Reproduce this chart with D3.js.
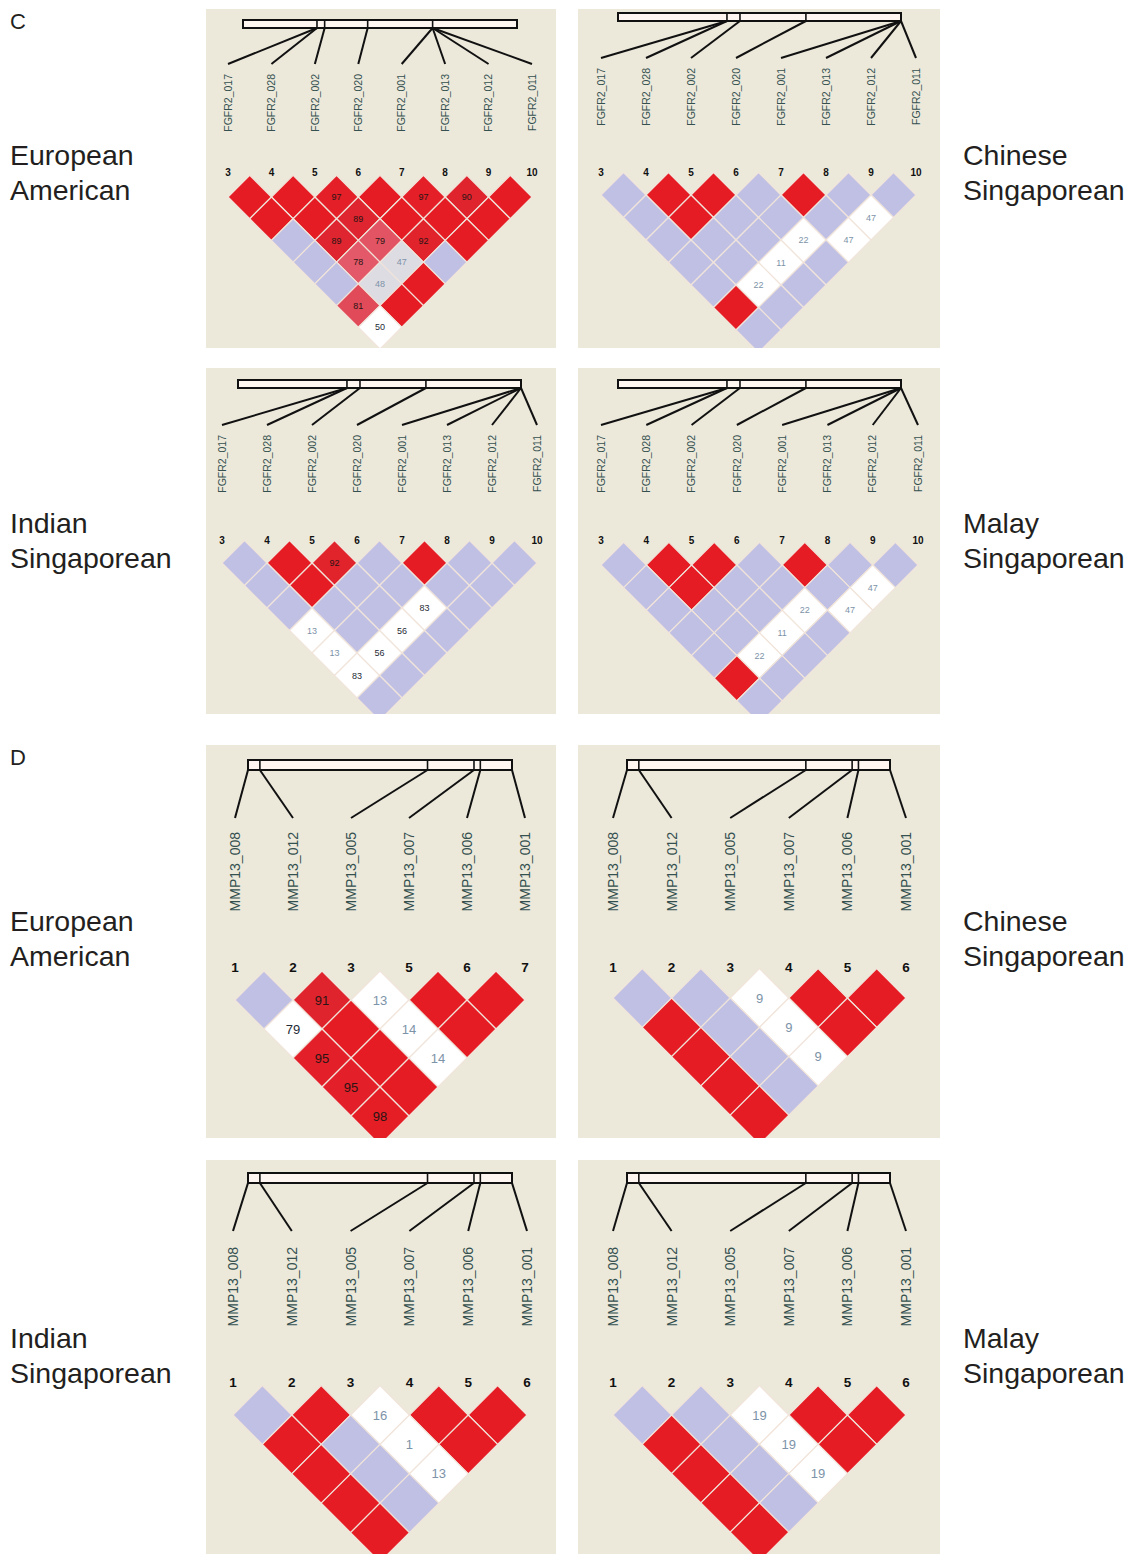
<!doctype html>
<html>
<head>
<script src="https://cdn.jsdelivr.net/npm/d3@7"></script>
<style>
  body { margin: 0; background: #fff; }
  text { font-family: "Liberation Sans", Arial, sans-serif; }
</style>
</head>
<body>
<div id="fig"></div>
<script>
// markers and their numbers
var fgfrMarkers = ["FGFR2_017","FGFR2_028","FGFR2_002","FGFR2_020","FGFR2_001","FGFR2_013","FGFR2_012","FGFR2_011"];
var fgfrNumbers = [3,4,5,6,7,8,9,10];
var mmpMarkers = ["MMP13_008","MMP13_012","MMP13_005","MMP13_007","MMP13_006","MMP13_001"];
var mmpNumbersEA = [1,2,3,5,6,7];
var mmpNumbers = [1,2,3,4,5,6];

// relative marker positions along the gene map bar
var fgfrPosEA = [0.27,0.27,0.298,0.455,0.692,0.692,0.692,0.692];
var fgfrPosSG = [0.385,0.385,0.431,0.664,1,1,1,1];
var mmpPos = [0,0.045,0.68,0.856,0.88,1];

// LD cells, row k = marker distance k; R red, B blue, W white, G grey, number = D'
var ldFgfrEA = [
  ["R","R","R97","R","R97","R90","R"],
  ["R","R","R89","R","R","R"],
  ["B","R89","R79","R92","R"],
  ["B","R78","G47","B"],
  ["B","G48","R"],
  ["R81","R"],
  ["W50"]
];
var ldFgfrCS = [
  ["B","R","R","B","R","B","B"],
  ["B","R","B","B","B","W47"],
  ["B","B","B","W22","W47"],
  ["B","B","W11","B"],
  ["B","W22","B"],
  ["R","B"],
  ["B"]
];
var ldFgfrIS = [
  ["B","R","R92","B","R","B","B"],
  ["B","R","B","B","B","B"],
  ["B","B","B","W83","B"],
  ["W13","B","W56","B"],
  ["W13","W56","B"],
  ["W83","B"],
  ["B"]
];
var ldFgfrMS = [
  ["B","R","R","B","R","B","B"],
  ["B","R","B","B","B","W47"],
  ["B","B","B","W22","W47"],
  ["B","B","W11","B"],
  ["B","W22","B"],
  ["R","B"],
  ["B"]
];
var ldMmpEA = [
  ["B","R91","W13","R","R"],
  ["W79","R","W14","R"],
  ["R95","R","W14"],
  ["R95","R"],
  ["R98"]
];
var ldMmpCS = [
  ["B","B","W9","R","R"],
  ["R","B","W9","R"],
  ["R","B","W9"],
  ["R","B"],
  ["R"]
];
var ldMmpIS = [
  ["B","R","W16","R","R"],
  ["R","B","W1","R"],
  ["R","B","W13"],
  ["R","B"],
  ["R"]
];
var ldMmpMS = [
  ["B","B","W19","R","R"],
  ["R","B","W19","R"],
  ["R","B","W19"],
  ["R","B"],
  ["R"]
];

var W = 1132, H = 1554;
var svg = d3.select("#fig").append("svg").attr("width", W).attr("height", H);

var RED = "#e61c24", BLUE = "#bfc0e4", GREY = "#dddce3", BG = "#ece9db";
var shade = d3.scaleLinear().domain([75, 88, 100]).range(["#e4687a", "#de2630", RED]).clamp(true);

function fillOf(c) {
  if (c.type == "B") return BLUE;
  if (c.type == "W") return "#ffffff";
  if (c.type == "G") return GREY;
  return c.val ? shade(c.val) : RED;
}

var panels = [
  {rect:[206,9,350,339], markers:fgfrMarkers, nums:fgfrNumbers, pos:fgfrPosEA, ld:ldFgfrEA, xr:[228,532], numY:172, row1:197, bar:[243,517], barY:20, barH:8, lineEnd:64, labTop:74, lab:10.5, nf:10, cf:9},
  {rect:[578,9,362,339], markers:fgfrMarkers, nums:fgfrNumbers, pos:fgfrPosSG, ld:ldFgfrCS, xr:[601,916], numY:172, row1:195, bar:[618,901], barY:13, barH:8, lineEnd:58, labTop:68, lab:10.5, nf:10, cf:9},
  {rect:[206,368,350,346], markers:fgfrMarkers, nums:fgfrNumbers, pos:fgfrPosSG, ld:ldFgfrIS, xr:[222,537], numY:540, row1:563, bar:[238,521], barY:380, barH:8, lineEnd:425, labTop:435, lab:10.5, nf:10, cf:9},
  {rect:[578,368,362,346], markers:fgfrMarkers, nums:fgfrNumbers, pos:fgfrPosSG, ld:ldFgfrMS, xr:[601,918], numY:540, row1:565, bar:[618,901], barY:380, barH:8, lineEnd:425, labTop:435, lab:10.5, nf:10, cf:9},
  {rect:[206,745,350,393], markers:mmpMarkers, nums:mmpNumbersEA, pos:mmpPos, ld:ldMmpEA, xr:[235,525], numY:967, row1:1000, bar:[248,512], barY:760, barH:10, lineEnd:818, labTop:832, lab:14, nf:13.5, cf:13},
  {rect:[578,745,362,393], markers:mmpMarkers, nums:mmpNumbers, pos:mmpPos, ld:ldMmpCS, xr:[613,906], numY:967, row1:998, bar:[627,890], barY:760, barH:10, lineEnd:818, labTop:832, lab:14, nf:13.5, cf:13},
  {rect:[206,1160,350,394], markers:mmpMarkers, nums:mmpNumbers, pos:mmpPos, ld:ldMmpIS, xr:[233,527], numY:1382, row1:1415, bar:[248,512], barY:1173, barH:10, lineEnd:1231, labTop:1247, lab:14, nf:13.5, cf:13},
  {rect:[578,1160,362,394], markers:mmpMarkers, nums:mmpNumbers, pos:mmpPos, ld:ldMmpMS, xr:[613,906], numY:1382, row1:1415, bar:[627,890], barY:1173, barH:10, lineEnd:1231, labTop:1247, lab:14, nf:13.5, cf:13}
];

function drawPanel(p, pi) {
  var g = svg.append("g");
  var clipId = "clip" + pi;
  g.append("clipPath").attr("id", clipId).append("rect")
    .attr("x", p.rect[0]).attr("y", p.rect[1]).attr("width", p.rect[2]).attr("height", p.rect[3]);
  g.attr("clip-path", "url(#" + clipId + ")");
  g.append("rect").attr("x", p.rect[0]).attr("y", p.rect[1])
    .attr("width", p.rect[2]).attr("height", p.rect[3]).attr("fill", BG);

  var n = p.markers.length;
  var x = d3.scaleLinear().domain([0, n - 1]).range(p.xr);
  var s = (x(1) - x(0)) / 2;
  var bx = d3.scaleLinear().domain([0, 1]).range(p.bar);

  // gene map bar
  g.append("rect").attr("x", p.bar[0]).attr("y", p.barY)
    .attr("width", p.bar[1] - p.bar[0]).attr("height", p.barH)
    .attr("fill", "#fff5f1").attr("stroke", "#111").attr("stroke-width", 2);
  var ticks = Array.from(new Set(p.pos)).filter(function(d) { return d > 0.005 && d < 0.995; });
  g.selectAll(".tk").data(ticks).join("line")
    .attr("x1", function(d) { return bx(d); }).attr("x2", function(d) { return bx(d); })
    .attr("y1", p.barY).attr("y2", p.barY + p.barH)
    .attr("stroke", "#111").attr("stroke-width", 1.6);

  // connector lines
  g.selectAll(".cn").data(p.pos).join("line")
    .attr("x1", function(d) { return bx(d); }).attr("y1", p.barY + p.barH)
    .attr("x2", function(d, i) { return x(i); }).attr("y2", p.lineEnd)
    .attr("stroke", "#111").attr("stroke-width", 2);

  // marker names
  g.selectAll(".lb").data(p.markers).join("text")
    .attr("transform", function(d, i) { return "translate(" + x(i) + "," + p.labTop + ") rotate(-90)"; })
    .attr("text-anchor", "end").attr("dy", "0.35em")
    .attr("font-size", p.lab).attr("fill", "#34504f")
    .text(function(d) { return d; });

  // marker numbers
  g.selectAll(".nm").data(p.nums).join("text")
    .attr("x", function(d, i) { return x(i); }).attr("y", p.numY)
    .attr("dy", "0.35em").attr("text-anchor", "middle")
    .attr("font-size", p.nf).attr("font-weight", "bold").attr("fill", "#111")
    .text(function(d) { return d; });

  // LD diamonds
  var cells = [];
  p.ld.forEach(function(row, k) {
    row.forEach(function(c, i) {
      cells.push({i: i, j: i + k + 1, type: c[0], val: c.length > 1 ? +c.slice(1) : null});
    });
  });
  function cx(d) { return (x(d.i) + x(d.j)) / 2; }
  function cy(d) { return p.row1 + (d.j - d.i - 1) * s; }
  g.selectAll(".cell").data(cells).join("path")
    .attr("d", function(d) {
      var X = cx(d), Y = cy(d);
      return "M" + X + "," + (Y - s) + "L" + (X + s) + "," + Y + "L" + X + "," + (Y + s) + "L" + (X - s) + "," + Y + "Z";
    })
    .attr("fill", fillOf).attr("stroke", "#f1e4da").attr("stroke-width", 1.2);

  g.selectAll(".cv").data(cells.filter(function(d) { return d.val !== null; })).join("text")
    .attr("x", cx).attr("y", cy).attr("dy", "0.35em").attr("text-anchor", "middle")
    .attr("font-size", p.cf)
    .attr("fill", function(d) {
      if (d.type == "R") return "#2a1414";
      return d.val >= 50 ? "#1f2b36" : "#7d93a8";
    })
    .text(function(d) { return d.val; });
}

panels.forEach(drawPanel);

// section letters and population names
var letters = [{t:"C", y:29}, {t:"D", y:765}];
svg.selectAll(".letter").data(letters).join("text")
  .attr("x", 10).attr("y", function(d) { return d.y; })
  .attr("font-size", 22).attr("fill", "#231f20").text(function(d) { return d.t; });

var popNames = [
  {l1:"European", l2:"American", x:10, y:165},
  {l1:"Chinese", l2:"Singaporean", x:963, y:165},
  {l1:"Indian", l2:"Singaporean", x:10, y:533},
  {l1:"Malay", l2:"Singaporean", x:963, y:533},
  {l1:"European", l2:"American", x:10, y:931},
  {l1:"Chinese", l2:"Singaporean", x:963, y:931},
  {l1:"Indian", l2:"Singaporean", x:10, y:1348},
  {l1:"Malay", l2:"Singaporean", x:963, y:1348}
];
var pn = svg.selectAll(".pop").data(popNames).join("text")
  .attr("font-size", 28.5).attr("fill", "#231f20");
pn.append("tspan").attr("x", function(d) { return d.x; }).attr("y", function(d) { return d.y; })
  .text(function(d) { return d.l1; });
pn.append("tspan").attr("x", function(d) { return d.x; }).attr("y", function(d) { return d.y + 35; })
  .text(function(d) { return d.l2; });
</script>
</body>
</html>
